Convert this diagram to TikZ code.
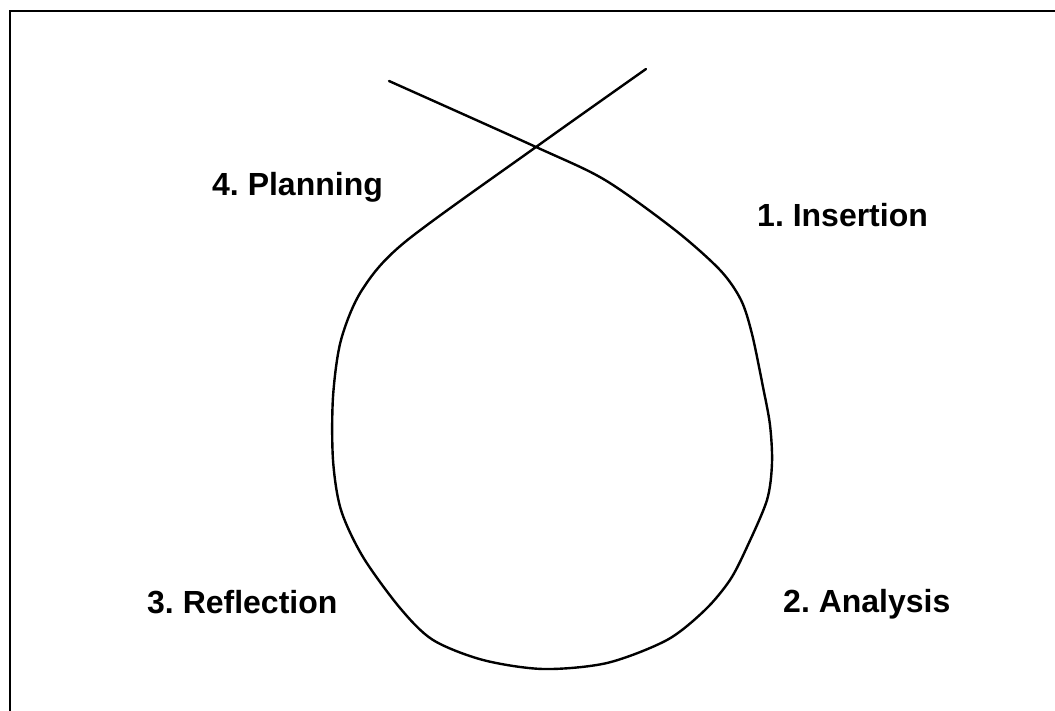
\documentclass[tikz,border=0pt]{standalone}
\usepackage{fontspec}
\setmainfont{Liberation Sans}
\begin{document}
\begin{tikzpicture}[x=1pt,y=-1pt,
  lbl/.style={anchor=base west,inner sep=0pt,font=\fontsize{32}{38}\selectfont\bfseries},
  loop/.style={line width=2.4pt,line cap=round,line join=round},
  frame/.style={line width=2.4pt}]
\useasboundingbox (0,0) rectangle (1055,711);
\frenchspacing
\draw[frame] (1055,11) -- (10,11) -- (10,711);
\draw[loop] plot[smooth,tension=0.5] coordinates {
 (389,81) (536,147) (605,180) (675,230) (720,270) (741,300)
 (752,334) (763,387) (770,425) (772,463) (767,500) (747,547)
 (730,580) (705,610) (667,640) (607,663) (543,669) (483,660)
 (433,640) (400,608) (363,557) (341,510) (333,460) (333,397)
 (341,340) (362,290) (405,242) (536,147) (646,69)};
\node[lbl] (plan) at (212,196) {4. Planning};
\node[lbl] (ins) at (757,227) {1. Insertion};
\node[lbl] (refl) at (147,613) {3. Reflection};
\node[lbl] (ana) at (783,612) {2. Analysis};
\end{tikzpicture}
\end{document}
